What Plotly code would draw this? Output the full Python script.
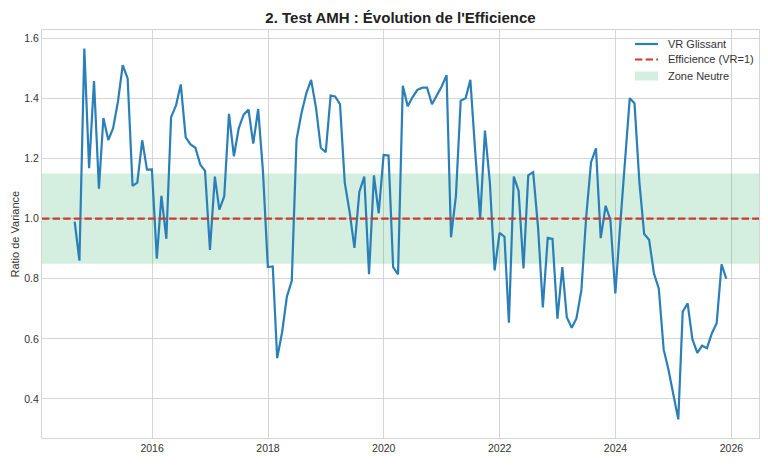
import pandas as pd
import plotly.graph_objects as go

start_month = "2014-08-31"
vr_values = [
    0.99, 0.86, 1.566, 1.168, 1.458,
    1.10, 1.335, 1.262, 1.30, 1.39, 1.511, 1.467, 1.109, 1.12, 1.261, 1.163, 1.164,
    0.867, 1.076, 0.933, 1.338, 1.377, 1.447, 1.271, 1.247, 1.236, 1.18, 1.159, 0.896,
    1.14, 1.03, 1.074, 1.349, 1.208, 1.30, 1.346, 1.363, 1.25, 1.365, 1.16, 0.839,
    0.841, 0.536, 0.622, 0.74, 0.793, 1.263, 1.351, 1.418, 1.462, 1.368, 1.236, 1.221,
    1.41, 1.407, 1.381, 1.12, 1.021, 0.903, 1.089, 1.14, 0.815, 1.144, 1.018, 1.212,
    1.21, 0.839, 0.815, 1.442, 1.374, 1.404, 1.429, 1.436, 1.436, 1.381, 1.412, 1.44,
    1.478, 0.938, 1.076, 1.393, 1.401, 1.462, 1.22, 1.0, 1.293, 1.12, 0.828, 0.953,
    0.94, 0.654, 1.14, 1.093, 0.834, 1.144, 1.155, 0.97, 0.705, 0.936, 0.933, 0.667,
    0.839, 0.672, 0.637, 0.668, 0.762, 1.004, 1.188, 1.234, 0.935, 1.043, 0.996, 0.751,
    0.98, 1.19, 1.401, 1.384, 1.12, 0.949, 0.93, 0.817, 0.768, 0.564, 0.498, 0.415,
    0.332, 0.69, 0.718, 0.599, 0.553, 0.577, 0.569, 0.619, 0.652, 0.848, 0.80,
]
dates = pd.date_range(start_month, periods=len(vr_values), freq="ME")

efficiency_level = 1.0
neutral_low = 0.85
neutral_high = 1.15
x_range = ["2014-02-06", "2026-06-24"]
y_range = [0.27, 1.628]
y_ticks = [0.4, 0.6, 0.8, 1.0, 1.2, 1.4, 1.6]
legend_labels = ["VR Glissant", "Efficience (VR=1)", "Zone Neutre"]

font_family = "Liberation Sans, Arial, sans-serif"
grid_color = "#d5d5d5"
blue = "#2a7fb8"
red = "#cc3a2e"
green_fill = "rgba(39,174,96,0.2)"
red_dash = "7.4px,3.2px"

# Figure geometry (page has an 8px body margin)
W, H = 760, 457
ML, MR, MT, MB = 34, 9, 22, 27
PW, PH = W - ML - MR, H - MT - MB


def px(xp):
    return (xp - 8 - ML) / PW


def py(yp):
    return (H - MB - (yp - 8)) / PH


fig = go.Figure()

fig.add_trace(go.Scatter(
    x=x_range, y=[neutral_low, neutral_low], mode="lines",
    line=dict(width=0), showlegend=False, hoverinfo="skip"))
fig.add_trace(go.Scatter(
    x=x_range, y=[neutral_high, neutral_high], mode="lines",
    line=dict(width=0), fill="tonexty", fillcolor=green_fill,
    name=legend_labels[2], showlegend=False, hoverinfo="skip"))

fig.add_trace(go.Scatter(
    x=dates, y=vr_values, mode="lines",
    line=dict(color=blue, width=2.2),
    name=legend_labels[0], showlegend=False))

fig.add_trace(go.Scatter(
    x=x_range, y=[efficiency_level, efficiency_level], mode="lines",
    line=dict(color=red, width=2.2, dash=red_dash),
    name=legend_labels[1], showlegend=False))

# Legend (drawn in paper coordinates)
leg_x0, leg_x1, leg_text_x = 635, 658, 665.5
row_y = [44, 59.5, 76]
shapes = [
    dict(type="line", xref="paper", yref="paper",
         x0=px(leg_x0), x1=px(leg_x1), y0=py(row_y[0]), y1=py(row_y[0]),
         line=dict(color=blue, width=2.2)),
    dict(type="line", xref="paper", yref="paper",
         x0=px(leg_x0), x1=px(leg_x1), y0=py(row_y[1]), y1=py(row_y[1]),
         line=dict(color=red, width=2.2, dash=red_dash)),
    dict(type="rect", xref="paper", yref="paper",
         x0=px(leg_x0), x1=px(leg_x1), y0=py(row_y[2] + 4.5), y1=py(row_y[2] - 4.5),
         fillcolor=green_fill, line=dict(width=0)),
]
annotations = [
    dict(text=lbl, xref="paper", yref="paper", x=px(leg_text_x), y=py(yy),
         xanchor="left", yanchor="middle", showarrow=False,
         font=dict(size=11, color="#333333"))
    for lbl, yy in zip(legend_labels, row_y)
]
annotations.append(dict(
    text="Ratio de Variance", xref="paper", yref="paper",
    x=px(14.5), y=0.5, xanchor="center", yanchor="middle",
    textangle=-90, showarrow=False, font=dict(size=11, color="#333333")))

fig.update_layout(
    width=W, height=H,
    margin=dict(l=ML, r=MR, t=MT, b=MB),
    paper_bgcolor="white", plot_bgcolor="white",
    font=dict(family=font_family, size=11, color="#333333"),
    title=dict(text="<b>2. Test AMH : Évolution de l'Efficience</b>",
               xref="paper", x=0.5, xanchor="center",
               yref="container", y=1 - 9.3 / H, yanchor="middle",
               font=dict(size=15, color="#222222")),
    showlegend=False,
    shapes=shapes,
    annotations=annotations,
)

fig.update_xaxes(
    type="date", range=x_range, automargin=False,
    tick0="2016-01-01", dtick="M24", tickformat="%Y",
    showgrid=True, gridcolor=grid_color, gridwidth=1,
    showline=True, linecolor=grid_color, linewidth=1, mirror=True,
    ticks="", tickfont=dict(size=10.5, color="#333333"), zeroline=False,
)
fig.update_yaxes(
    range=y_range, tickvals=y_ticks, tickformat=".1f", automargin=False,
    showgrid=True, gridcolor=grid_color, gridwidth=1,
    showline=True, linecolor=grid_color, linewidth=1, mirror=True,
    ticks="", tickfont=dict(size=10.5, color="#333333"), zeroline=False,
)

fig.write_html("out.html")
